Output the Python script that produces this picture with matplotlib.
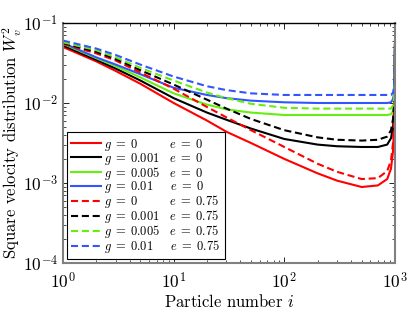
import numpy as np
import matplotlib
matplotlib.use('Agg')
import matplotlib.pyplot as plt
from matplotlib.ticker import FuncFormatter, LogLocator
from matplotlib.font_manager import FontProperties

plt.rcParams['mathtext.fontset'] = 'cm'
plt.rcParams['font.family'] = 'cmr10'
plt.rcParams['axes.formatter.use_mathtext'] = True

particle = [1, 2, 3, 5, 10, 20, 30, 50, 100, 200, 300, 500, 700, 850, 920, 960, 980, 990, 1000]

# e = 0
w_g0_e0 = [0.0501, 0.0331, 0.0251, 0.0174, 0.0100, 0.00603, 0.00437, 0.00316, 0.00200, 0.00132,
           0.00107, 0.000891, 0.000933, 0.00112, 0.00151, 0.00251, 0.00501, 0.0100, 0.0501]
w_g0001_e0 = [0.0525, 0.0347, 0.0269, 0.0191, 0.0115, 0.00759, 0.00617, 0.00479, 0.00355, 0.00302,
              0.00288, 0.00282, 0.00282, 0.00302, 0.00363, 0.00501, 0.00794, 0.0141, 0.0525]
w_g0005_e0 = [0.0550, 0.0363, 0.0288, 0.0209, 0.0132, 0.00955, 0.00832, 0.00759, 0.00708, 0.00708,
              0.00708, 0.00708, 0.00708, 0.00708, 0.00724, 0.00794, 0.0100, 0.0158, 0.0550]
w_g001_e0 = [0.0562, 0.0372, 0.0302, 0.0229, 0.0155, 0.0126, 0.0115, 0.0107, 0.0102, 0.0100,
             0.0100, 0.0100, 0.0100, 0.0100, 0.0102, 0.0112, 0.0132, 0.0200, 0.0562]

# e = 0.75
w_g0_e075 = [0.0550, 0.0417, 0.0339, 0.0240, 0.0151, 0.00891, 0.00661, 0.00457, 0.00282, 0.00174,
             0.00138, 0.00112, 0.00115, 0.00141, 0.00191, 0.00316, 0.00562, 0.0112, 0.0550]
w_g0001_e075 = [0.0562, 0.0437, 0.0355, 0.0257, 0.0170, 0.0110, 0.00851, 0.00631, 0.00457, 0.00372,
                0.00347, 0.00339, 0.00347, 0.00380, 0.00457, 0.00631, 0.0100, 0.0158, 0.0562]
w_g0005_e075 = [0.0575, 0.0457, 0.0372, 0.0275, 0.0191, 0.0135, 0.0115, 0.00977, 0.00871, 0.00851,
                0.00851, 0.00851, 0.00851, 0.00851, 0.00851, 0.00933, 0.0112, 0.0178, 0.0575]
w_g001_e075 = [0.0603, 0.0479, 0.0398, 0.0302, 0.0214, 0.0162, 0.0145, 0.0132, 0.0126, 0.0126,
               0.0126, 0.0126, 0.0126, 0.0126, 0.0126, 0.0135, 0.0158, 0.0224, 0.0603]

series = [w_g0_e0, w_g0001_e0, w_g0005_e0, w_g001_e0,
          w_g0_e075, w_g0001_e075, w_g0005_e075, w_g001_e075]
g_text = [r'g\;=\;0', r'g\;=\;0.001', r'g\;=\;0.005', r'g\;=\;0.01'] * 2
e_text = [r'e\;=\;0'] * 4 + [r'e\;=\;0.75'] * 4
colors = ['#ff0000', '#000000', '#66ee11', '#3355ff'] * 2
styles = ['-'] * 4 + ['--'] * 4

fig = plt.figure(figsize=(4.15, 3.13), dpi=100)
ax = fig.add_axes([63/415, 1 - 263/313, 332/415, 240/313])

# pad the g part with thin spaces so the e column lines up
rend = fig.canvas.get_renderer()
fp = FontProperties(size=9)
def text_w(s):
    return rend.get_text_width_height_descent(s, fp, ismath=True)[0]
thin = text_w(r'$x\,x$') - text_w(r'$xx$')
g_w = [text_w('$' + t + '$') for t in g_text]
col_x = max(g_w) + 11
labels = []
for t, e, wd in zip(g_text, e_text, g_w):
    n = int(round((col_x - wd) / thin))
    labels.append('$' + t + r'\,' * n + e + '$')

for y, c, ls, lab in zip(series, colors, styles, labels):
    line, = ax.plot(particle, y, color=c, linestyle=ls, lw=1.5, label=lab)
    if ls == '--':
        line.set_dashes((3.4, 1.8))

ax.set_xscale('log')
ax.set_yscale('log')
ax.set_xlim(1, 1000)
ax.set_ylim(1e-4, 1e-1)

fmt = FuncFormatter(lambda v, p: r'$\mathsf{10^{%d}}$' % int(round(np.log10(v))))
ax.xaxis.set_major_formatter(fmt)
ax.yaxis.set_major_formatter(fmt)
ax.xaxis.set_minor_locator(LogLocator(base=10, subs=np.arange(2, 10)))
ax.yaxis.set_minor_locator(LogLocator(base=10, subs=np.arange(2, 10)))
ax.tick_params(which='both', direction='in', top=True, right=True, labelsize=12.5)
ax.tick_params(which='major', length=4, width=0.6)
ax.tick_params(which='minor', length=2, width=0.5)
ax.tick_params(axis='x', pad=6)

for s in ['left', 'bottom', 'right']:
    ax.spines[s].set_color('#808080')
    ax.spines[s].set_linewidth(1.5)
ax.spines['top'].set_linewidth(1.0)

ax.set_xlabel(r'Particle number $i$', fontsize=12, labelpad=1)
ax.set_ylabel(r'Square velocity distribution $W_v^2$', fontsize=12)
ax.yaxis.set_label_coords(-0.116, 0.5)

leg = ax.legend(loc='lower left', fontsize=9, handlelength=2.4, handletextpad=0.25,
                labelspacing=-0.17, borderpad=0.35, borderaxespad=0.3, fancybox=False,
                edgecolor='black', framealpha=1)
leg.get_frame().set_linewidth(0.8)

fig.savefig('out.png', dpi=100)
